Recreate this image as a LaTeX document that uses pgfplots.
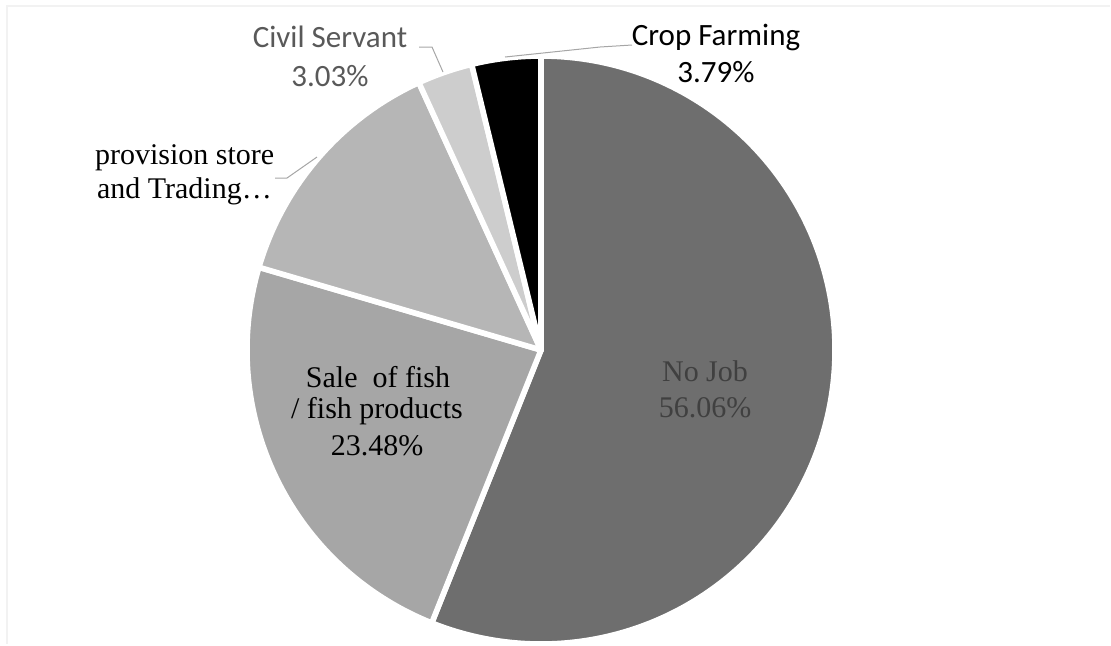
\documentclass[border=0pt]{standalone}
\usepackage{pgfplots}
\usepackage{pgfplotstable}
\pgfplotsset{compat=1.18}
\usepackage{fontspec}
\setmainfont{Liberation Serif}
\newfontfamily\calibri{Carlito}

\definecolor{cNoJob}{HTML}{6E6E6E}
\definecolor{cSale}{HTML}{A6A6A6}
\definecolor{cProv}{HTML}{B6B6B6}
\definecolor{cCivil}{HTML}{CDCDCD}
\definecolor{cCrop}{HTML}{000000}
\definecolor{cLead}{HTML}{A6A6A6}

\pgfplotstableread{
label value
NoJob 56.06
Sale 23.48
Provision 13.64
Civil 3.03
Crop 3.79
}\piedata

\begin{document}
\begin{tikzpicture}
\pgfplotstablegetelem{0}{value}\of\piedata \let\vA\pgfplotsretval
\pgfplotstablegetelem{1}{value}\of\piedata \let\vB\pgfplotsretval
\pgfplotstablegetelem{2}{value}\of\piedata \let\vC\pgfplotsretval
\pgfplotstablegetelem{3}{value}\of\piedata \let\vD\pgfplotsretval
\pgfplotstablegetelem{4}{value}\of\piedata \let\vE\pgfplotsretval
\pgfmathsetmacro\aA{90}
\pgfmathsetmacro\aB{\aA-3.6*\vA}
\pgfmathsetmacro\aC{\aB-3.6*\vB}
\pgfmathsetmacro\aD{\aC-3.6*\vC}
\pgfmathsetmacro\aE{\aD-3.6*\vD}
\pgfmathsetmacro\aF{\aE-3.6*\vE}
\def\R{147pt}
\tikzset{slice/.style={draw=white, line width=2.8pt, line join=round}}
\begin{axis}[
  width=555.5pt, height=322.5pt, scale only axis,
  xmin=0, xmax=1111, ymin=0, ymax=645, y dir=reverse,
  axis lines=none, clip=false,
]
\coordinate (BL) at (rel axis cs:0,0);
\coordinate (TR) at (rel axis cs:1,1);
% faint frame
\draw[color=black!5, line width=0.6pt] (axis cs:7,644) -- (axis cs:7,6) -- (axis cs:1110,6);
% slices
\fill[fill=cNoJob, slice] (axis cs:541,350) -- ++(\aA:\R) arc[start angle=\aA, end angle=\aB, radius=\R] -- cycle;
\fill[fill=cSale, slice] (axis cs:541,350) -- ++(\aB:\R) arc[start angle=\aB, end angle=\aC, radius=\R] -- cycle;
\fill[fill=cProv, slice] (axis cs:541,350) -- ++(\aC:\R) arc[start angle=\aC, end angle=\aD, radius=\R] -- cycle;
\fill[fill=cCivil, slice] (axis cs:541,350) -- ++(\aD:\R) arc[start angle=\aD, end angle=\aE, radius=\R] -- cycle;
\fill[fill=cCrop, slice] (axis cs:541,350) -- ++(\aE:\R) arc[start angle=\aE, end angle=\aF, radius=\R] -- cycle;
% leader lines
\draw[cLead, line width=0.5pt] (axis cs:419,47) -- (axis cs:432,47) -- (axis cs:443,72);
\draw[cLead, line width=0.5pt] (axis cs:505,57) -- (axis cs:600,47) -- (axis cs:632,45);
\draw[cLead, line width=0.5pt] (axis cs:275,178) -- (axis cs:287,178) -- (axis cs:317,157);
% labels
\node[font=\calibri\fontsize{15.5}{17}\selectfont, text=black!65] at (axis cs:330,37) {Civil Servant};
\node[font=\calibri\fontsize{15.5}{17}\selectfont, text=black!65] at (axis cs:330,76) {3.03\%};
\node[font=\calibri\fontsize{15.5}{17}\selectfont, text=black] at (axis cs:716,37) {Crop Farming};
\node[font=\calibri\fontsize{15.5}{17}\selectfont, text=black] at (axis cs:716,72) {3.79\%};
\node[font=\fontsize{15}{17}\selectfont, text=black, anchor=west] at (axis cs:88,158) {provision store};
\node[font=\fontsize{15}{17}\selectfont, text=black, anchor=west] at (axis cs:90,191) {and Trading\ldots};
\node[font=\fontsize{15}{17}\selectfont, text=black] at (axis cs:378,377) {Sale\ \ of fish};
\node[font=\fontsize{15}{17}\selectfont, text=black] at (axis cs:377,411) {/ fish products};
\node[font=\fontsize{15}{17}\selectfont, text=black] at (axis cs:377,446) {23.48\%};
\node[font=\fontsize{15}{17}\selectfont, text=black!75] at (axis cs:705,371) {No Job};
\node[font=\fontsize{15}{17}\selectfont, text=black!75] at (axis cs:705,408) {56.06\%};
\end{axis}
\pgfresetboundingbox
\path (BL) rectangle (TR);
\end{tikzpicture}
\end{document}
